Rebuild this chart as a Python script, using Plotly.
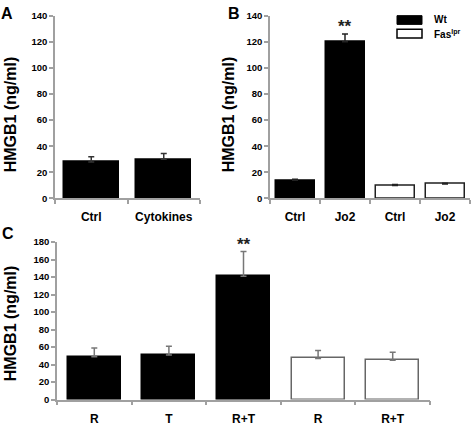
import plotly.graph_objects as go

# ---- data ----
a_cats = ["Ctrl", "Cytokines"]
a_vals = [28, 30]
a_err = [4, 4.5]

b_cats = ["Ctrl", "Jo2", "Ctrl", "Jo2"]
b_vals = [14, 120, 10, 11]
b_err = [0.8, 6, 0.7, 0.7]
b_group = ["Wt", "Wt", "Fas", "Fas"]

c_cats = ["R", "T", "R+T", "R", "R+T"]
c_vals = [49, 51, 141, 47, 45]
c_err = [10, 10, 28, 9, 9]
c_group = ["Wt", "Wt", "Wt", "Fas", "Fas"]

W, H = 473, 426
FONT = "Liberation Sans, Arial, sans-serif"
AXC = "#a0a0a0"
EDGE = "#404040"


def px(x):
    return x / W


def py(y):
    return 1 - y / H


fig = go.Figure()


def add_bars(cats, vals, errs, groups, xa, ya, width, ecol, edge):
    xs = list(range(len(cats)))
    fills = ["black" if g == "Wt" else "white" for g in groups]
    lines = ["black" if g == "Wt" else edge for g in groups]
    fig.add_trace(go.Bar(
        x=xs, y=vals, width=width, xaxis=xa, yaxis=ya,
        marker=dict(color=fills, line=dict(color=lines, width=1.5)),
        error_y=dict(type="data", symmetric=False, array=errs,
                     arrayminus=[0] * len(errs), color=ecol,
                     thickness=1.5, width=3),
        showlegend=False, hoverinfo="skip",
    ))


add_bars(a_cats, a_vals, a_err, ["Wt"] * 2, "x", "y", 0.76, "#333333", EDGE)
add_bars(b_cats, b_vals, b_err, b_group, "x2", "y2", 0.78, "#222222", "#202020")
add_bars(c_cats, c_vals, c_err, c_group, "x3", "y3", 0.71, "#777777", "#666666")


def xax(domain, cats, standoff):
    n = len(cats)
    return dict(
        domain=domain, range=[-0.5, n - 0.5], showline=True, linecolor=AXC,
        linewidth=1.5, tickvals=list(range(n)), ticktext=cats, ticks="",
        tickfont=dict(family=FONT, size=12, color="black", weight="bold"),
        ticklabelstandoff=standoff,
        minor=dict(tickvals=[i - 0.5 for i in range(n + 1)], ticks="outside",
                   ticklen=4, tickcolor=AXC, tickwidth=1.5, showgrid=False),
        showgrid=False, zeroline=False, fixedrange=True,
    )


def yax(domain, rng, anchor):
    return dict(
        domain=domain, range=rng, dtick=20, showline=True, linecolor=AXC,
        linewidth=1.5, ticks="outside", ticklen=4, tickcolor=AXC, tickwidth=1.5,
        tickfont=dict(family=FONT, size=9.5, color="black", weight="bold"),
        showgrid=False, zeroline=False, fixedrange=True, anchor=anchor,
    )


fig.update_layout(
    width=W, height=H, margin=dict(l=0, r=0, t=0, b=0),
    paper_bgcolor="white", plot_bgcolor="white", bargap=0,
    xaxis=dict(xax([px(55), px(200)], a_cats, 6), anchor="y"),
    yaxis=yax([py(199), py(10)], [0, 140], "x"),
    xaxis2=dict(xax([px(270), px(470)], b_cats, 6), anchor="y2"),
    yaxis2=yax([py(199), py(10)], [0, 140], "x2"),
    xaxis3=dict(xax([px(57), px(430)], c_cats, 7), anchor="y3"),
    yaxis3=yax([py(407), py(244)], [0, 180], "x3"),
)

anns = []
title = "HMGB1 (ng/ml)"
for (x, y) in [(10, 112), (228, 112), (10, 328)]:
    anns.append(dict(text=title, x=px(x), y=py(y), xref="paper", yref="paper",
                     xanchor="center", yanchor="middle",
                     textangle=-90, showarrow=False,
                     font=dict(family=FONT, size=16, color="black", weight="bold")))
for (t, x, y) in [("A", 7, 8), ("B", 234, 8), ("C", 8, 235)]:
    anns.append(dict(text=t, x=px(x), y=py(y), xref="paper", yref="paper",
                     xanchor="center", yanchor="middle", showarrow=False,
                     font=dict(family=FONT, size=16, color="black", weight="bold")))
# significance marks
anns.append(dict(text="**", x=1, y=b_vals[1] + b_err[1], xref="x2", yref="y2",
                 yanchor="middle", yshift=7, showarrow=False,
                 font=dict(family=FONT, size=17, color="#222222", weight="bold")))
anns.append(dict(text="**", x=2, y=c_vals[2] + c_err[2], xref="x3", yref="y3",
                 yanchor="middle", yshift=7, showarrow=False,
                 font=dict(family=FONT, size=17, color="#222222", weight="bold")))
# legend text
anns.append(dict(text="Wt", x=px(432), y=py(14), xref="paper", yref="paper",
                 xanchor="left", yanchor="middle", showarrow=False,
                 font=dict(family=FONT, size=10, color="black", weight="bold")))
anns.append(dict(text="Fas<sup>lpr</sup>", x=px(432), y=py(29), xref="paper",
                 yref="paper", xanchor="left", yanchor="middle", showarrow=False,
                 font=dict(family=FONT, size=10, color="black", weight="bold")))
fig.update_layout(annotations=anns)

fig.add_shape(type="rect", xref="paper", yref="paper", x0=px(397), x1=px(422),
              y0=py(19), y1=py(10), fillcolor="black", line=dict(color="black", width=1))
fig.add_shape(type="rect", xref="paper", yref="paper", x0=px(397), x1=px(422),
              y0=py(33), y1=py(24), fillcolor="white", line=dict(color="black", width=1.5))

fig.write_html(
    "out.html",
    config={"displayModeBar": False},
    post_script="document.body.style.margin='0';document.body.style.overflow='hidden';",
)
